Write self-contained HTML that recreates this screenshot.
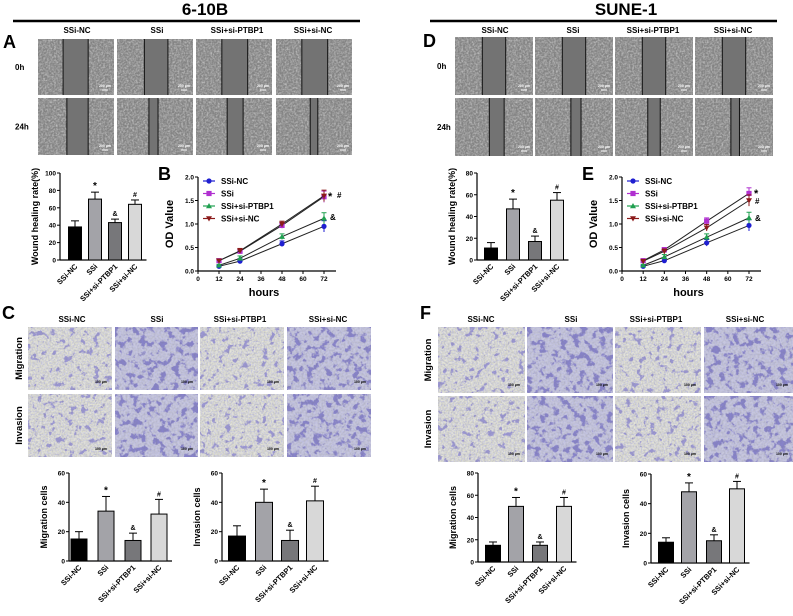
<!DOCTYPE html>
<html><head><meta charset="utf-8">
<style>
html,body{margin:0;padding:0;background:#fff;}
svg{display:block;font-family:"Liberation Sans",Arial,sans-serif;font-weight:bold;}
</style></head>
<body>
<svg id="fig" width="793" height="616" viewBox="0 0 793 616" xmlns="http://www.w3.org/2000/svg">
<defs>
<filter id="grain" x="0" y="0" width="100%" height="100%">
<feTurbulence type="fractalNoise" baseFrequency="0.55" numOctaves="2" seed="4"/>
<feColorMatrix type="matrix" values="0 0 0 0 0.85  0 0 0 0 0.85  0 0 0 0 0.85  2.2 0 0 0 -0.75"/>
</filter>
<filter id="grainDark" x="0" y="0" width="100%" height="100%">
<feTurbulence type="fractalNoise" baseFrequency="0.5" numOctaves="2" seed="9"/>
<feColorMatrix type="matrix" values="0 0 0 0 0.2  0 0 0 0 0.2  0 0 0 0 0.2  2.2 0 0 0 -0.8"/>
</filter>
<filter id="blobLight" x="0" y="0" width="100%" height="100%">
<feTurbulence type="fractalNoise" baseFrequency="0.16" numOctaves="3" seed="2"/>
<feColorMatrix type="matrix" values="0 0 0 0 0.3  0 0 0 0 0.28  0 0 0 0 0.65  10 0 0 0 -6.0"/>
</filter>
<filter id="blobDense" x="0" y="0" width="100%" height="100%">
<feTurbulence type="fractalNoise" baseFrequency="0.15" numOctaves="3" seed="7"/>
<feColorMatrix type="matrix" values="0 0 0 0 0.22  0 0 0 0 0.2  0 0 0 0 0.58  8 0 0 0 -4.2"/>
</filter>
<filter id="fineBlue" x="0" y="0" width="100%" height="100%">
<feTurbulence type="fractalNoise" baseFrequency="0.7" numOctaves="1" seed="5"/>
<feColorMatrix type="matrix" values="0 0 0 0 0.5  0 0 0 0 0.5  0 0 0 0 0.78  3 0 0 0 -1.2"/>
</filter>
</defs>
</svg>
<script>
// ---------- data ----------
const groups = ["SSi-NC","SSi","SSi+si-PTBP1","SSi+si-NC"];
const woundA = [38,70,43,64];
const woundAErr = [7,8,4,5];
const woundD = [11,47,17,55];
const woundDErr = [5,9,5,7];
const migC = [15,34,14,32];
const migCErr = [5,10,5,10];
const invC = [17,40,14,41];
const invCErr = [7,9,7,10];
const migF = [15,50,15,50];
const migFErr = [3,8,3,8];
const invF = [14,48,15,50];
const invFErr = [3,6,4,5];
const hours = [12,24,48,72];
const hourTicks = [0,12,24,36,48,60,72];
const odTicks = [0,0.5,1.0,1.5,2.0];
const odB_NC = [0.10,0.21,0.58,0.95];
const odB_SSi = [0.22,0.42,0.97,1.58];
const odB_PT = [0.12,0.27,0.73,1.12];
const odB_siNC = [0.22,0.43,1.00,1.60];
const odB_err = [0.02,0.05,0.06,0.12];
const odE_NC = [0.10,0.22,0.60,0.97];
const odE_SSi = [0.22,0.45,1.06,1.65];
const odE_PT = [0.12,0.30,0.72,1.13];
const odE_siNC = [0.21,0.42,0.92,1.50];
const odE_err = [0.02,0.05,0.07,0.12];
const sigMarks = ["","*","&","#"];

const NS="http://www.w3.org/2000/svg";
const svg=document.getElementById('fig');
function el(tag,attrs,parent){const e=document.createElementNS(NS,tag);for(const k in attrs)e.setAttribute(k,attrs[k]);(parent||svg).appendChild(e);return e;}
function txt(s,x,y,size,anchor,parent,extra){const t=el('text',Object.assign({x:x,y:y,'font-size':size,'text-anchor':anchor||'middle',fill:'#000'},extra||{}),parent);t.textContent=s;return t;}

// ---------- headers ----------
let t=txt("6-10B",205,15,17);


let ln=el('line',{x1:13,y1:21,x2:360,y2:21,stroke:'#000','stroke-width':2.5});


t=txt("SUNE-1",626,15,17);


ln=el('line',{x1:430,y1:21,x2:777,y2:21,stroke:'#000','stroke-width':2.5});



function panelLabel(s,x,y){const p=txt(s,x,y,18,'start');

}
panelLabel("A",3,48);panelLabel("D",423,47);panelLabel("B",158,180);panelLabel("E",582,180);
panelLabel("C",2,319);panelLabel("F",420,319);

// ---------- wound images ----------
function woundPanel(xs,w,rows,gaps,headX,rowLabelX,key){
  groups.forEach((g,i)=>{const h=txt(g,headX[i],33,8);
    
    });
  ["0h","24h"].forEach((r,ri)=>{const h=txt(r,rowLabelX,rows[ri][0]+(rows[ri][1]-rows[ri][0])/2+3,8,'start');
    
    });
  rows.forEach((r,ri)=>{xs.forEach((x,ci)=>{
    const gg=el('g',{});
    
    
    const hh=r[1]-r[0];
    el('rect',{x:x,y:r[0],width:w,height:hh,fill:'#858585'},gg);
    el('rect',{x:x,y:r[0],width:w,height:hh,filter:'url(#grain)',opacity:0.55},gg);
    el('rect',{x:x,y:r[0],width:w,height:hh,filter:'url(#grainDark)',opacity:0.5},gg);
    const g=gaps[ri][ci];const gx1=x+w*g[0],gx2=x+w*g[1];
    el('rect',{x:gx1,y:r[0],width:gx2-gx1,height:hh,fill:'#737373'},gg);
    el('line',{x1:gx1,y1:r[0],x2:gx1,y2:r[1],stroke:'#111','stroke-width':1},gg);
    el('line',{x1:gx2,y1:r[0],x2:gx2,y2:r[1],stroke:'#111','stroke-width':1},gg);
    txt("200 μm",x+w-9,r[1]-8,3.5,'middle',gg,{fill:'#fff'});
    el('line',{x1:x+w-12,y1:r[1]-5,x2:x+w-6,y2:r[1]-5,stroke:'#fff','stroke-width':1},gg);
  });});
}
woundPanel([38,117,196,276],76,[[39,95],[98,155]],
 [[[.33,.66],[.36,.67],[.34,.68],[.34,.68]],[[.38,.66],[.42,.54],[.41,.62],[.45,.55]]],
 [77,157,237,313],15,'wound-6-10b');
woundPanel([455,535,615,695],78,[[37,95],[98,156]],
 [[[.35,.65],[.35,.65],[.35,.65],[.35,.65]],[[.44,.63],[.46,.59],[.42,.58],[.46,.57]]],
 [495,573,653,733],437,'wound-sune-1');

// ---------- transwell images ----------
function transPanel(xs,ws,rows,dens,headX,rowLabelX,key){
  groups.forEach((g,i)=>{const h=txt(g,headX[i],322,8);
    
    });
  ["Migration","Invasion"].forEach((r,ri)=>{const cy=(rows[ri][0]+rows[ri][1])/2;
    const h=txt(r,rowLabelX,cy,9.5,'middle',null,{transform:`rotate(-90 ${rowLabelX} ${cy})`});
    
    });
  rows.forEach((r,ri)=>{xs.forEach((x,ci)=>{
    const gg=el('g',{});
    
    
    const w=ws[ci],hh=r[1]-r[0],d=dens[ri][ci];
    el('rect',{x:x,y:r[0],width:w,height:hh,fill:d?'#c8c8de':'#e4e4d8'},gg);
    el('rect',{x:x,y:r[0],width:w,height:hh,filter:'url(#fineBlue)',opacity:0.7},gg);
    el('rect',{x:x,y:r[0],width:w,height:hh,filter:d?'url(#blobDense)':'url(#blobLight)',opacity:0.9},gg);
    el('rect',{x:x,y:r[0],width:w,height:hh,filter:'url(#grainDark)',opacity:0.25},gg);
    txt("100 μm",x+w-11,r[1]-7,3.5,'middle',gg,{fill:'#000'});
  });});
}
transPanel([28,115,200,287],[84,83,84,84],[[327,390],[394,457]],
 [[0,1,0,1],[0,1,0,1]],[72,157,240,328],22,'transwell-6-10b');
transPanel([438,527,615,704],[87,86,86,89],[[327,393],[396,462]],
 [[0,1,0,1],[0,1,0,1]],[481,571,656,745],431,'transwell-sune-1');

// ---------- bar charts ----------
const barFills=["#000","#a3a3a8","#77777a","#d8d8d8"];
function barChart(o){
  const g=el('g',{});
  
  
  const ys=v=>o.y0-(v/o.max)*(o.y0-o.yTop);
  el('line',{x1:o.ax,y1:o.yTop,x2:o.ax,y2:o.y0,stroke:'#000','stroke-width':1.2},g);
  el('line',{x1:o.ax,y1:o.y0,x2:o.cx[3]+o.bw/2+5,y2:o.y0,stroke:'#000','stroke-width':1.2},g);
  for(let v=0;v<=o.max;v+=o.step){
    el('line',{x1:o.ax-3,y1:ys(v),x2:o.ax,y2:ys(v),stroke:'#000','stroke-width':1},g);
    txt(String(v),o.ax-4,ys(v)+2.5,6.5,'end',g);
  }
  const yl=(o.yTop+o.y0)/2, lx=o.ax-22;
  const lab=txt(o.ylabel,lx,yl,9,'middle',g,{transform:`rotate(-90 ${lx} ${yl})`});
  
  
  o.vals.forEach((v,i)=>{
    const x=o.cx[i],top=ys(v),etop=ys(v+o.err[i]);
    el('line',{x1:x,y1:top,x2:x,y2:etop,stroke:'#000','stroke-width':1},g);
    el('line',{x1:x-4,y1:etop,x2:x+4,y2:etop,stroke:'#000','stroke-width':1},g);
    const b=el('rect',{x:x-o.bw/2,y:top,width:o.bw,height:o.y0-top,fill:barFills[i],stroke:'#000','stroke-width':1},g);
    
    
    if(sigMarks[i]) txt(sigMarks[i],x,etop-3,i==1?10:7,'middle',g);
    const lx2=x+3,ly2=o.y0+7;
    const tl=txt(groups[i],lx2,ly2,7.5,'end',g,{transform:`rotate(-45 ${lx2} ${ly2})`});
    
    
  });
}
barChart({name:'wound-healing-chart-a',ax:60,y0:260,yTop:173,max:100,step:20,cx:[75,95,115,135],bw:13,vals:woundA,err:woundAErr,ylabel:'Wound healing rate(%)'});
barChart({name:'wound-healing-chart-d',ax:477,y0:260,yTop:173,max:80,step:20,cx:[491,513,535,557],bw:13,vals:woundD,err:woundDErr,ylabel:'Wound healing rate(%)'});
barChart({name:'migration-chart-c',ax:69,y0:561,yTop:473,max:60,step:20,cx:[79,106,133,159],bw:16,vals:migC,err:migCErr,ylabel:'Migration cells'});
barChart({name:'invasion-chart-c',ax:222,y0:561,yTop:473,max:60,step:20,cx:[237,264,290,315],bw:17,vals:invC,err:invCErr,ylabel:'Invasion cells'});
barChart({name:'migration-chart-f',ax:478,y0:562,yTop:473,max:80,step:20,cx:[493,516,540,564],bw:15,vals:migF,err:migFErr,ylabel:'Migration cells'});
barChart({name:'invasion-chart-f',ax:651,y0:563,yTop:474,max:60,step:20,cx:[666,689,714,737],bw:15,vals:invF,err:invFErr,ylabel:'Invasion cells'});

// ---------- line charts ----------
const seriesNames=["SSi-NC","SSi","SSi+si-PTBP1","SSi+si-NC"];
const seriesColors=["#1f1fd0","#b030d0","#20a050","#8b1a1a"];
function marker(type,x,y,c,g){
  if(type==0) return el('circle',{cx:x,cy:y,r:2.6,fill:c},g);
  if(type==1) return el('rect',{x:x-2.6,y:y-2.6,width:5.2,height:5.2,fill:c},g);
  if(type==2) return el('polygon',{points:`${x},${y-3} ${x-3},${y+2.2} ${x+3},${y+2.2}`,fill:c},g);
  return el('polygon',{points:`${x},${y+3} ${x-3},${y-2.2} ${x+3},${y-2.2}`,fill:c},g);
}
function lineChart(o){
  const g=el('g',{});
  
  
  const xs=h=>o.ax+(h/72)*(o.x72-o.ax);
  const ys=v=>o.y0-(v/2)*(o.y0-o.yTop);
  el('line',{x1:o.ax,y1:o.yTop,x2:o.ax,y2:o.y0,stroke:'#000','stroke-width':1.2},g);
  el('line',{x1:o.ax,y1:o.y0,x2:o.x72+12,y2:o.y0,stroke:'#000','stroke-width':1.2},g);
  odTicks.forEach(v=>{el('line',{x1:o.ax-3,y1:ys(v),x2:o.ax,y2:ys(v),stroke:'#000'},g);
    txt(v.toFixed(1),o.ax-4,ys(v)+2.5,6.5,'end',g);});
  hourTicks.forEach(h=>{el('line',{x1:xs(h),y1:o.y0,x2:xs(h),y2:o.y0+3,stroke:'#000'},g);
    txt(String(h),xs(h),o.y0+10,6.5,'middle',g);});
  const xt=txt("hours",(o.ax+o.x72)/2+3,o.y0+25,11,'middle',g);
  
  
  const yc=(o.yTop+o.y0)/2,lx=o.ax-25;
  const yt=txt("OD Value",lx,yc,11,'middle',g,{transform:`rotate(-90 ${lx} ${yc})`});
  
  
  o.series.forEach((s,si)=>{
    const sg=el('g',{},g);
    
    
    el('polyline',{points:hours.map((h,i)=>xs(h)+','+ys(s[i])).join(' '),fill:'none',stroke:'#222','stroke-width':1},sg);
    hours.forEach((h,i)=>{
      const e=o.err[i];
      el('line',{x1:xs(h),y1:ys(s[i]-e),x2:xs(h),y2:ys(s[i]+e),stroke:seriesColors[si],'stroke-width':1},sg);
      el('line',{x1:xs(h)-2.5,y1:ys(s[i]+e),x2:xs(h)+2.5,y2:ys(s[i]+e),stroke:seriesColors[si],'stroke-width':1},sg);
      const m=marker(si,xs(h),ys(s[i]),seriesColors[si],sg);
      
      
    });
  });
  seriesNames.forEach((n,i)=>{
    const ly=o.legY+i*12.5;
    const lg=el('g',{},g);
    
    
    el('line',{x1:o.legX,y1:ly,x2:o.legX+12,y2:ly,stroke:seriesColors[i],'stroke-width':1.2},lg);
    marker(i,o.legX+6,ly,seriesColors[i],lg);
    txt(n,o.legX+18,ly+3,8,'start',lg);
  });
  o.notes.forEach(n=>txt(n[0],n[1],n[2],n[3],'start',g));
}
lineChart({name:'od-chart-b',ax:198,x72:324,y0:271,yTop:177,legX:203,legY:181,
  series:[odB_NC,odB_SSi,odB_PT,odB_siNC],err:odB_err,
  notes:[["*",328,200,11],["#",337,198,8],["&",330,220,8]]});
lineChart({name:'od-chart-e',ax:622,x72:749,y0:271,yTop:177,legX:627,legY:181,
  series:[odE_NC,odE_SSi,odE_PT,odE_siNC],err:odE_err,
  notes:[["*",754,197,11],["#",755,204,8],["&",755,221,8]]});
</script>
</body></html>
